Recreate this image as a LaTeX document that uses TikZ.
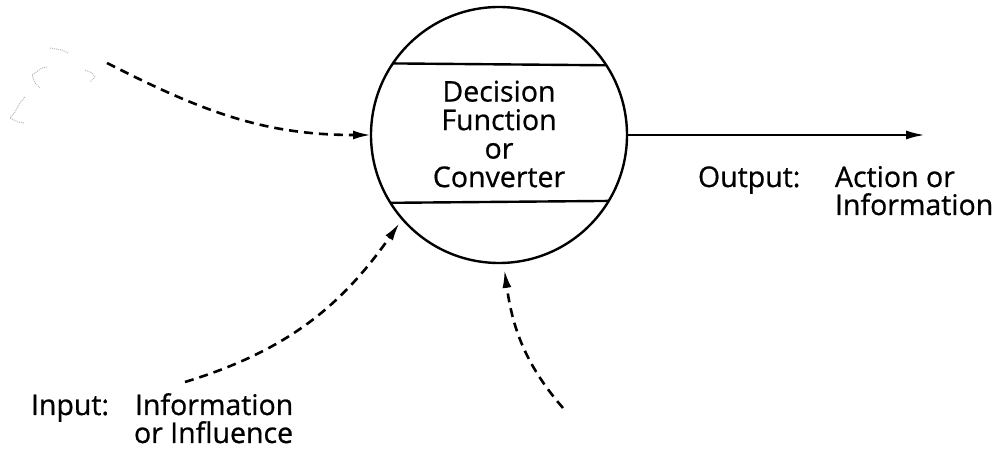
\documentclass[tikz,border=0pt]{standalone}
\usepackage{fontspec}
\setmainfont{Open Sans}
\newfontface\lbfont[FakeBold=0.7]{Open Sans}
\usetikzlibrary{arrows.meta,calc}
\begin{document}
\begin{tikzpicture}[x=1pt,y=-1pt,
  lbl/.style={font=\lbfont\fontsize{28.5}{28.5}\selectfont, inner sep=0pt, outer sep=0pt, anchor=base west},
  ctext/.style={font=\lbfont\fontsize{28.5}{28.5}\selectfont, inner sep=0pt, align=center},
  flow/.style={line width=2.6pt, dash pattern=on 9pt off 6pt, -{Latex[length=18pt,width=9pt]}},
  solidline/.style={line width=2.4pt},
  scrib/.style={gray!55, line width=1pt, densely dotted}]
\useasboundingbox (0,0) rectangle (1005,454);
% decision function circle
\node[circle, draw, line width=2.4pt, minimum size=256pt, inner sep=0pt, outer sep=0pt] (dec) at (499,135) {};
\draw[solidline] (dec.146.85) -- (dec.33.15);
\draw[solidline] (dec.-148.4) -- (dec.-31.6);
\node[ctext] (dectext) at (499,134) {Decision\\Function\\or\\Converter};
% output
\coordinate (outend) at (925,135);
\draw[solidline, -{Latex[length=19pt,width=9pt]}] (dec.east) -- (outend);
\node[lbl] (outlbl) at (698,187) {Output:};
\node[lbl] (outv1) at (835,187) {Action or};
\node[lbl] (outv2) at (835,215) {Information};
% input label
\node[lbl] (inlbl) at (31,415) {Input:};
\node[lbl] (inv1) at (135,415) {Information};
\node[lbl] (inv2) at (134,443) {or Influence};
% dashed inputs
\coordinate (s1) at (107,63);
\coordinate (s2) at (185,382);
\coordinate (s3) at (563,408);
\draw[flow] (s1) to[out=-27, in=180] (dec.180);
\draw[flow, shorten >=5pt] (s2) to[out=17, in=235] (dec.221);
\draw[flow, shorten >=7pt] (s3) to[out=131, in=-82] (dec.-88);
% faint scribble (source cloud)
\draw[scrib] (50,48) -- (62,50) -- (68,53);
\draw[scrib] (47,67) -- (42,68) -- (32,75) -- (35,83) -- (40,88);
\draw[scrib] (85,70) -- (92,73) -- (95,77) -- (90,82);
\draw[scrib] (25,97) -- (20,103) -- (15,112) -- (10,118) -- (18,122) -- (25,123);
\end{tikzpicture}
\end{document}
